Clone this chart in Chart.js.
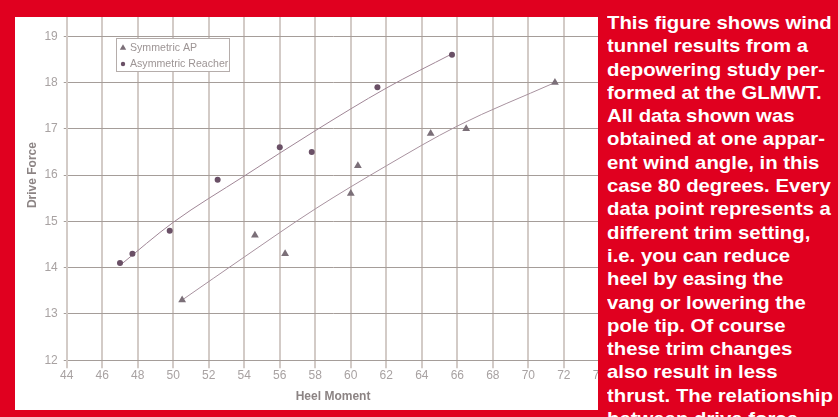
<!DOCTYPE html>
<html>
<head>
<meta charset="utf-8">
<script src="https://cdn.jsdelivr.net/npm/chart.js@4.4.1/dist/chart.umd.min.js"></script>
<style>
  html, body { margin: 0; padding: 0; }
  body { width: 838px; height: 417px; background: #e0001f; position: relative; overflow: hidden; }
  #wrap { position: absolute; left: 15px; top: -30px; width: 591px; height: 440px; background: #fff; }
  #chart { display: block; }
  .mask { position: absolute; background: #e0001f; }
  #blurb {
    position: absolute; left: 607px; top: 11px;
    font: bold 19px "Liberation Sans", Arial, sans-serif;
    line-height: 23.3px; color: #fff; white-space: pre;
    transform: scaleX(1.07); transform-origin: 0 0;
  }
</style>
</head>
<body>
<div id="wrap"><canvas id="chart" width="591" height="440"></canvas></div>
<div class="mask" style="left:0;top:0;width:838px;height:17px"></div>
<div class="mask" style="left:0;top:410px;width:838px;height:7px"></div>
<div class="mask" style="left:598px;top:0;width:240px;height:417px"></div>
<div id="blurb">This figure shows wind
tunnel results from a
depowering study per-
formed at the GLMWT.
All data shown was
obtained at one appar-
ent wind angle, in this
case 80 degrees. Every
data point represents a
different trim setting,
i.e. you can reduce
heel by easing the
vang or lowering the
pole tip. Of course
these trim changes
also result in less
thrust. The relationship
between drive force</div>
<script>
// measured points (heel moment, drive force)
var symX = [50.5, 54.6, 56.3, 60.0, 60.4, 64.5, 66.5, 71.5];
var symY = [13.3, 14.7, 14.3, 15.6, 16.2, 16.9, 17.0, 18.0];
var asymX = [47.0, 47.7, 49.8, 52.5, 56.0, 57.8, 61.5, 65.7];
var asymY = [14.1, 14.3, 14.8, 15.9, 16.6, 16.5, 17.9, 18.6];

// trend lines
var symTrendX = [50.5, 54.0, 58.0, 62.0, 66.0, 71.5];
var symTrendY = [13.3, 14.23, 15.27, 16.2, 17.06, 18.0];
var asymTrendX = [47.0, 50.0, 54.0, 58.0, 62.0, 65.7];
var asymTrendY = [14.05, 14.98, 15.98, 16.96, 17.88, 18.62];

var xTicks = [44, 46, 48, 50, 52, 54, 56, 58, 60, 62, 64, 66, 68, 70, 72, 74];
var yTicks = [12, 13, 14, 15, 16, 17, 18, 19, 20];

var seriesNames = ["Symmetric AP", "Asymmetric Reacher"];

function pts(xs, ys) {
    var out = [];
    for (var i = 0; i < xs.length; i++) {
        out.push({x: xs[i], y: ys[i]});
    }
    return out;
}

var tickFont = {family: "Liberation Sans", size: 12};
var tickColor = "#a8a2a2";
var vGrid = "#d3cbc7";
var hGrid = "#a59d99";

// boxed legend like the original, drawn inside the plot
var boxLegend = {
    id: "boxLegend",
    afterDraw: function(chart, args, opts) {
        var ctx = chart.ctx;
        ctx.save();
        ctx.fillStyle = "#fff";
        ctx.fillRect(opts.x, opts.y, opts.w, opts.h);
        ctx.strokeStyle = "#b5adab";
        ctx.lineWidth = 1;
        ctx.strokeRect(opts.x + 0.5, opts.y + 0.5, opts.w, opts.h);
        ctx.font = "10.6px 'Liberation Sans'";
        ctx.textBaseline = "middle";
        var shown = chart.data.datasets.filter(function(d) { return d.inLegend; });
        shown.forEach(function(ds, i) {
            var cy = opts.y + 10 + i * 16;
            ctx.fillStyle = ds.backgroundColor;
            ctx.strokeStyle = ds.backgroundColor;
            Chart.helpers.drawPoint(ctx, {
                pointStyle: ds.pointStyle, radius: ds.pointRadius - 0.8,
                borderWidth: 0
            }, opts.x + 7, cy);
            ctx.fillStyle = "#9d9595";
            ctx.fillText(ds.label, opts.x + 14, cy);
        });
        ctx.restore();
    }
};

var chart = new Chart(document.getElementById("chart").getContext("2d"), {
    type: "scatter",
    data: {
        datasets: [{
            label: seriesNames[0],
            inLegend: true,
            data: pts(symX, symY),
            pointStyle: "triangle",
            pointRadius: 4.5,
            borderWidth: 0,
            backgroundColor: "#7b6f78",
            borderColor: "#7b6f78"
        }, {
            label: seriesNames[1],
            inLegend: true,
            data: pts(asymX, asymY),
            pointStyle: "circle",
            pointRadius: 3,
            borderWidth: 0,
            backgroundColor: "#6a5066",
            borderColor: "#6a5066"
        }, {
            label: "sym trend",
            data: pts(symTrendX, symTrendY),
            showLine: true,
            pointRadius: 0,
            borderWidth: 1,
            borderColor: "#a8929f",
            cubicInterpolationMode: "monotone"
        }, {
            label: "asym trend",
            data: pts(asymTrendX, asymTrendY),
            showLine: true,
            pointRadius: 0,
            borderWidth: 1,
            borderColor: "#a08696",
            cubicInterpolationMode: "monotone"
        }]
    },
    options: {
        responsive: false,
        animation: false,
        layout: {padding: {left: 6, top: 20, right: 0, bottom: 2}},
        plugins: {
            legend: {display: false},
            tooltip: {enabled: false},
            boxLegend: {x: 101, y: 68, w: 113, h: 33}
        },
        scales: {
            x: {
                type: "linear",
                min: 44, max: 74,
                afterBuildTicks: function(axis) {
                    axis.ticks = xTicks.map(function(v) { return {value: v}; });
                },
                ticks: {font: tickFont, color: tickColor, padding: 0, maxRotation: 0},
                grid: {color: vGrid, lineWidth: 2, tickLength: 8},
                border: {color: hGrid, width: 1},
                title: {display: true, text: "Heel Moment", color: "#8c8484",
                        padding: {top: 7, bottom: 4},
                        font: {family: "Liberation Sans", size: 12, weight: "bold"}}
            },
            y: {
                min: 12, max: 20,
                afterBuildTicks: function(axis) {
                    axis.ticks = yTicks.map(function(v) { return {value: v}; });
                },
                ticks: {font: tickFont, color: tickColor, padding: 6},
                grid: {color: hGrid, lineWidth: 1, tickLength: 3},
                border: {color: vGrid, width: 2},
                title: {display: true, text: "Drive Force", color: "#8c8484",
                        padding: {top: 4, bottom: -1},
                        font: {family: "Liberation Sans", size: 12, weight: "bold"}}
            }
        }
    },
    plugins: [boxLegend]
});
</script>
</body>
</html>
